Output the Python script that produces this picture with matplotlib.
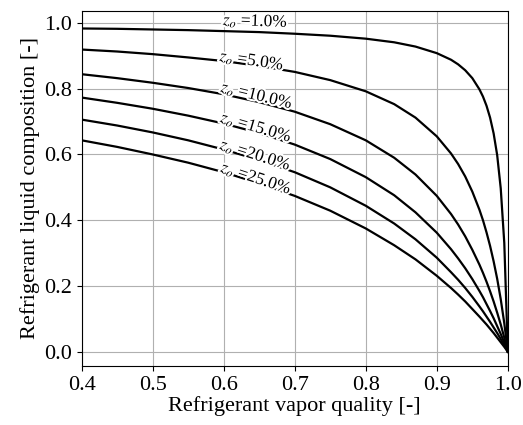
import numpy as np
import matplotlib
matplotlib.use("Agg")
import matplotlib.pyplot as plt
import matplotlib.patheffects as pe

plt.rcParams['font.family'] = ['Liberation Serif', 'DejaVu Serif']
plt.rcParams['mathtext.fontset'] = 'stix'

# vapor quality grid
quality = [0.40, 0.45, 0.50, 0.55, 0.60, 0.65, 0.70, 0.75, 0.80, 0.84, 0.87, 0.90,
           0.92, 0.93, 0.94, 0.95, 0.96, 0.965, 0.97, 0.975, 0.98, 0.985, 0.99, 0.995, 1.0]

oil_fractions = [1.0, 5.0, 10.0, 15.0, 20.0, 25.0]  # %

comp_z01 = [0.983, 0.982, 0.980, 0.978, 0.975, 0.972, 0.967, 0.961, 0.952, 0.941, 0.928, 0.908,
            0.888, 0.874, 0.856, 0.832, 0.798, 0.776, 0.748, 0.712, 0.664, 0.598, 0.497, 0.331, 0.0]
comp_z05 = [0.919, 0.913, 0.905, 0.895, 0.884, 0.869, 0.851, 0.826, 0.792, 0.753, 0.712, 0.655,
            0.603, 0.571, 0.533, 0.487, 0.432, 0.400, 0.363, 0.322, 0.275, 0.222, 0.160, 0.087, 0.0]
comp_z10 = [0.844, 0.832, 0.818, 0.802, 0.783, 0.759, 0.730, 0.692, 0.643, 0.590, 0.539, 0.474,
            0.419, 0.387, 0.351, 0.310, 0.265, 0.240, 0.213, 0.184, 0.153, 0.119, 0.083, 0.043, 0.0]
comp_z15 = [0.773, 0.757, 0.739, 0.718, 0.694, 0.665, 0.630, 0.586, 0.531, 0.476, 0.424, 0.362,
            0.312, 0.284, 0.254, 0.221, 0.185, 0.166, 0.145, 0.124, 0.102, 0.078, 0.054, 0.028, 0.0]
comp_z20 = [0.706, 0.688, 0.667, 0.643, 0.615, 0.583, 0.546, 0.500, 0.444, 0.390, 0.342, 0.286,
            0.242, 0.219, 0.194, 0.167, 0.138, 0.123, 0.107, 0.091, 0.074, 0.057, 0.039, 0.020, 0.0]
comp_z25 = [0.643, 0.623, 0.600, 0.575, 0.546, 0.512, 0.474, 0.429, 0.375, 0.324, 0.281, 0.231,
            0.194, 0.174, 0.153, 0.130, 0.107, 0.095, 0.083, 0.070, 0.057, 0.043, 0.029, 0.015, 0.0]

curves = [comp_z01, comp_z05, comp_z10, comp_z15, comp_z20, comp_z25]

# label centre positions (data coords)
label_pos = [(0.645, 1.004), (0.640, 0.884), (0.647, 0.778),
             (0.646, 0.681), (0.645, 0.597), (0.646, 0.526)]

fig = plt.figure(figsize=(5.23, 4.25), dpi=100)
ax = fig.add_axes([0.156, 0.139, 0.815, 0.835])
ax.set_xlim(0.4, 1.0)
ax.set_ylim(-0.043, 1.036)
ax.grid(True, color='#b0b0b0', linewidth=0.8)
ax.set_axisbelow(True)

for c in curves:
    ax.plot(quality, c, color='black', linewidth=1.6)

for z, c, (lx, ly) in zip(oil_fractions, curves, label_pos):
    x1, x2 = lx - 0.02, lx + 0.02
    y1, y2 = np.interp(x1, quality, c), np.interp(x2, quality, c)
    p1 = ax.transData.transform((x1, y1))
    p2 = ax.transData.transform((x2, y2))
    ang = np.degrees(np.arctan2(p2[1] - p1[1], p2[0] - p1[0]))
    ax.text(lx, ly, r'$z_o$ =' + f'{z:.1f}%', rotation=ang, rotation_mode='anchor',
            ha='center', va='center', fontsize=12.5, color='black',
            path_effects=[pe.withStroke(linewidth=3, foreground='white')], zorder=5)

ax.set_xticks([0.4, 0.5, 0.6, 0.7, 0.8, 0.9, 1.0])
ax.set_yticks([0.0, 0.2, 0.4, 0.6, 0.8, 1.0])
ax.tick_params(labelsize=16)
ax.set_xlabel('Refrigerant vapor quality [-]', fontsize=16, labelpad=1)
ax.set_ylabel('Refrigerant liquid composition [-]', fontsize=16, labelpad=3)

fig.savefig('out.png', dpi=100)
